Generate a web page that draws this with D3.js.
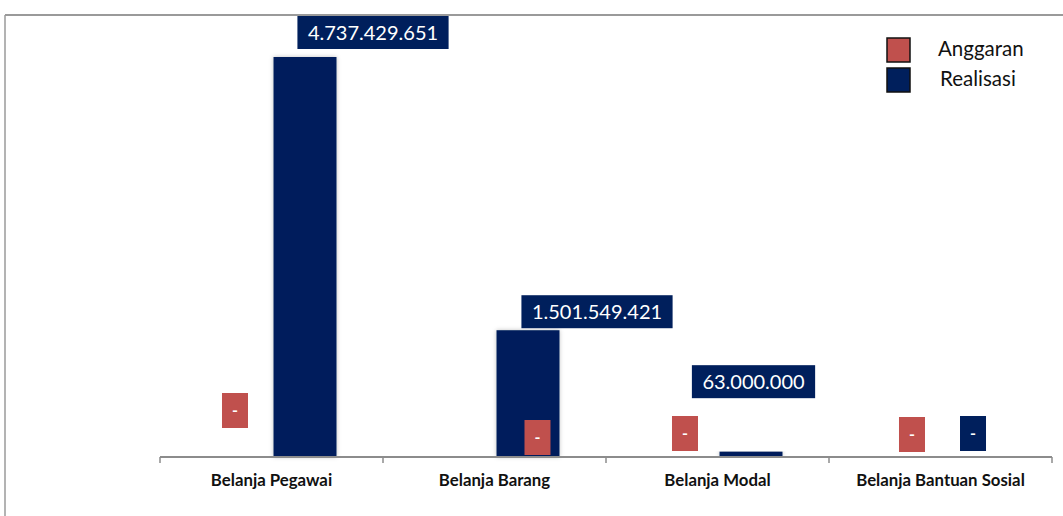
<!DOCTYPE html>
<html><head><meta charset="utf-8">
<script src="https://cdn.jsdelivr.net/npm/d3@7"></script>
<style>body{margin:0;background:#fff;}svg{display:block;}</style>
</head><body>
<svg id="c" width="1063" height="516"></svg>
<script>
const categories = ["Belanja Pegawai","Belanja Barang","Belanja Modal","Belanja Bantuan Sosial"];
const seriesNames = ["Anggaran","Realisasi"];
const anggaran = [0, 0, 0, 0];
const realisasi = [4737429651, 1501549421, 63000000, 0];
// label box centre offsets relative to bar centre / bar top (layout only)
const offA = [[-5,-46.5],[74.5,-19.5],[-1,-23.5],[3,-22.5]];
const offR = [[68,-24.5],[69,-18.5],[2.5,-70],[-1,-23.5]];
const colors = {Anggaran:"#C0504D", Realisasi:"#001F5C"};

const svg = d3.select("#c");
const base = 457;
const x0 = d3.scaleBand().domain(categories).range([160,1052]);
const x1 = d3.scaleBand().domain(seriesNames).range([-63,65]).paddingInner(0.03125);
const y = d3.scaleLinear().domain([0,4737429651]).range([base, 57]);
const loc = d3.formatLocale({decimal:",", thousands:".", grouping:[3], currency:["Rp",""]});
const fmt = v => v === 0 ? "-" : loc.format(",")(v);

// frame
svg.append("line").attr("x1",5).attr("x2",1063).attr("y1",15).attr("y2",15).attr("stroke","#9a9a9a").attr("stroke-width",2);
svg.append("line").attr("x1",5).attr("x2",5).attr("y1",15).attr("y2",516).attr("stroke","#9a9a9a").attr("stroke-width",1.5);

const defs = svg.append("defs");
const f = defs.append("filter").attr("id","sh").attr("x","-20%").attr("y","-5%").attr("width","140%").attr("height","110%");
f.append("feDropShadow").attr("dx",0).attr("dy",0).attr("stdDeviation",2).attr("flood-color","#000").attr("flood-opacity",0.25);

const data = categories.map((c,i)=>({c, vals:[{s:"Anggaran",v:anggaran[i],off:offA[i]},{s:"Realisasi",v:realisasi[i],off:offR[i]}]}));

const g = svg.selectAll("g.cat").data(data).join("g").attr("class","cat")
  .attr("transform", d=>`translate(${x0(d.c)+x0.bandwidth()/2},0)`);

g.selectAll("rect.bar").data(d=>d.vals.filter(v=>v.v>0)).join("rect").attr("class","bar")
  .attr("x", d=>x1(d.s)).attr("width", x1.bandwidth())
  .attr("y", d=>y(d.v)).attr("height", d=>base-y(d.v))
  .attr("fill", d=>colors[d.s]).attr("filter","url(#sh)");

// axis
const axis = svg.append("g").attr("transform",`translate(0,${base})`);
axis.append("line").attr("x1",160).attr("x2",1052).attr("stroke","#8c8c8c").attr("stroke-width",2);
const tickX = categories.map(c=>x0(c)).concat([x0.range()[1]]);
axis.selectAll("line.t").data(tickX).join("line").attr("class","t")
  .attr("x1",d=>d).attr("x2",d=>d).attr("y1",0).attr("y2",6).attr("stroke","#8c8c8c").attr("stroke-width",1.5);
axis.selectAll("text").data(categories).join("text")
  .attr("x", d=>x0(d)+x0.bandwidth()/2).attr("y",29)
  .attr("text-anchor","middle").attr("font-family","Lato, sans-serif").attr("font-weight","bold")
  .attr("font-size","16.8px").attr("fill","#111").text(d=>d);

// labels
const lab = g.selectAll("g.lab").data(d=>d.vals).join("g").attr("class","lab")
  .attr("transform", d=>`translate(${x1(d.s)+x1.bandwidth()/2+d.off[0]},${y(d.v)+d.off[1]})`);
lab.each(function(d){
  const s = d3.select(this);
  const t = s.append("text").attr("text-anchor","middle").attr("dy","0.36em")
    .attr("font-family","Lato, sans-serif").attr("font-size", d.v===0?"16px":"20px")
    .attr("font-weight", d.v===0?"bold":"normal").attr("fill","#fff").text(fmt(d.v));
  const w = d.v===0 ? 26 : t.node().getComputedTextLength()+21;
  const h = d.v===0 ? 35 : 33;
  s.insert("rect","text").attr("x",-w/2).attr("y",-h/2).attr("width",w).attr("height",h).attr("fill",colors[d.s]);
});

// legend
const lg = svg.append("g");
seriesNames.forEach((s,i)=>{
  lg.append("rect").attr("x",887).attr("y",38+i*30).attr("width",23).attr("height",24)
    .attr("fill",colors[s]).attr("stroke","#111").attr("stroke-width",1.5);
  lg.append("text").attr("x",938+i*2).attr("y",56+i*30).attr("font-family","Lato, sans-serif")
    .attr("font-size","20.5px").attr("fill","#111").text(s);
});
</script>
</body></html>
